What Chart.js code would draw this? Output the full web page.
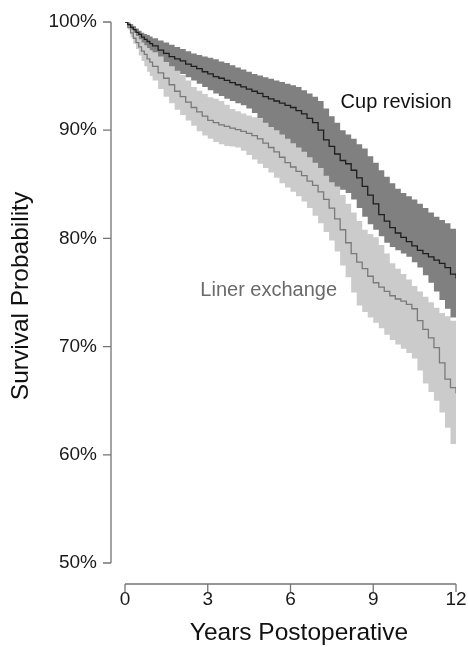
<!DOCTYPE html>
<html>
<head>
<meta charset="utf-8">
<script src="https://cdn.jsdelivr.net/npm/chart.js@4.4.1/dist/chart.umd.min.js"></script>
<style>
  html, body { margin: 0; padding: 0; background: #ffffff; }
  #wrap { width: 468px; height: 647px; position: relative; }
</style>
</head>
<body>
<div id="wrap"><canvas id="km"></canvas></div>
<script>
// Follow-up times (years) shared by every curve
const years = [
  0, 0.1, 0.2, 0.3, 0.4, 0.5, 0.6, 0.7, 0.8, 0.9, 1.0,
  1.2, 1.4, 1.6, 1.8, 2.0, 2.2, 2.4, 2.6, 2.8, 3.0,
  3.2, 3.4, 3.6, 3.8, 4.0, 4.2, 4.4, 4.6, 4.8, 5.0,
  5.2, 5.4, 5.6, 5.8, 6.0, 6.2, 6.4, 6.6, 6.8, 7.0,
  7.2, 7.4, 7.6, 7.8, 8.0, 8.2, 8.4, 8.6, 8.8, 9.0,
  9.2, 9.4, 9.6, 9.8, 10.0, 10.2, 10.4, 10.6, 10.8, 11.0,
  11.2, 11.4, 11.6, 11.8, 12.0
];

// Cup revision: Kaplan-Meier estimate and 95% band (%)
const cupSurv = [
  100, 99.75, 99.5, 99.3, 99.05, 98.85, 98.6, 98.4, 98.2, 98.0, 97.8,
  97.4, 97.1, 96.8, 96.6, 96.4, 96.1, 95.9, 95.7, 95.4, 95.2,
  94.95, 94.8, 94.6, 94.4, 94.2, 94.0, 93.8, 93.6, 93.4, 93.1,
  92.9, 92.7, 92.5, 92.3, 92.1, 91.8, 91.5, 91.1, 90.7, 90.0,
  89.1, 88.5, 87.8, 87.2, 86.9, 86.3, 85.6, 84.8, 84.0, 83.2,
  82.2, 81.6, 81.0, 80.5, 80.1, 79.7, 79.3, 78.9, 78.6, 78.3,
  78.0, 77.7, 77.3, 76.7, 76.3
];
const cupUpper = [
  100, 99.95, 99.8, 99.6, 99.4, 99.2, 99.0, 98.9, 98.8, 98.65, 98.5,
  98.3, 98.1, 97.9, 97.7, 97.5, 97.3, 97.1, 96.95, 96.8, 96.7,
  96.55, 96.35, 96.2, 96.0, 95.8, 95.6, 95.4, 95.2, 95.05, 94.9,
  94.75, 94.6, 94.45, 94.3, 94.15, 94.0, 93.7, 93.4, 93.1, 92.7,
  92.0, 91.3, 90.7, 90.0, 89.6, 89.2, 88.7, 88.3, 87.6, 87.0,
  86.3, 85.7, 85.1, 84.6, 84.2, 83.9, 83.6, 83.2, 82.8, 82.4,
  82.0, 81.7, 81.4, 80.9, 80.8
];
const cupLower = [
  100, 99.6, 99.3, 99.0, 98.7, 98.4, 98.1, 97.85, 97.6, 97.4, 97.2,
  96.8, 96.3, 95.9, 95.5, 95.2, 94.9, 94.6, 94.3, 94.0, 93.7,
  93.4, 93.15, 92.9, 92.7, 92.5, 92.3, 92.0, 91.6, 91.1, 90.7,
  90.3, 90.0, 89.6, 89.2, 88.8, 88.4, 88.0, 87.5, 87.0, 86.5,
  85.8, 85.2, 84.8, 84.5, 84.2, 83.6, 82.8, 82.0, 81.3, 80.8,
  80.2, 79.6, 79.2, 78.9, 78.6, 78.3, 77.8, 77.3, 76.6, 75.9,
  75.1, 74.3, 73.5, 72.7, 72.5
];

// Liner exchange: Kaplan-Meier estimate and 95% band (%)
const linerSurv = [
  100, 99.5, 99.0, 98.5, 98.1, 97.7, 97.3, 97.0, 96.6, 96.3, 95.9,
  95.3, 94.8, 94.2, 93.6, 93.1, 92.6, 92.1, 91.7, 91.3, 90.9,
  90.7, 90.5, 90.35, 90.2, 90.05, 89.9, 89.7, 89.5, 89.2, 88.8,
  88.4, 88.0, 87.5, 87.0, 86.6, 86.2, 85.8, 85.3, 84.9, 84.3,
  83.6, 82.8, 81.8, 80.8, 79.6, 78.6, 77.8, 77.2, 76.5, 75.9,
  75.5, 75.1, 74.7, 74.4, 74.2, 73.9, 73.5, 72.4, 71.6, 70.8,
  69.9, 68.5, 67.0, 66.2, 65.7
];
const linerUpper = [
  100, 99.9, 99.8, 99.55, 99.3, 99.05, 98.8, 98.55, 98.3, 98.05, 97.8,
  97.3, 96.8, 96.2, 95.6, 95.1, 94.6, 94.0, 93.65, 93.35, 93.05,
  92.9, 92.7, 92.35, 91.95, 91.75, 91.55, 91.35, 91.2, 91.05, 90.95,
  90.65, 90.35, 90.05, 89.75, 89.45, 89.15, 88.85, 88.45, 88.05, 87.55,
  86.85, 86.2, 85.6, 84.0, 83.2, 82.4, 81.6, 80.8, 80.4, 80.1,
  79.4, 78.6, 77.7, 77.2, 76.7, 76.2, 75.6, 75.1, 74.6, 74.1,
  73.6, 73.1, 72.8, 72.4, 72.2
];
const linerLower = [
  100, 99.3, 98.6, 98.0, 97.5, 96.9, 96.4, 95.9, 95.4, 95.0, 94.6,
  93.8, 93.1, 92.5, 91.9, 91.4, 90.9, 90.4, 89.9, 89.5, 89.2,
  88.9, 88.7, 88.55, 88.5, 88.4, 88.1, 87.7, 87.3, 86.9, 86.5,
  86.1, 85.6, 85.1, 84.7, 84.3, 83.9, 83.4, 82.8, 82.1, 81.4,
  80.6, 79.8, 78.8, 77.5, 76.4, 75.0, 73.8, 73.2, 72.7, 72.2,
  71.7, 71.1, 70.6, 70.2, 69.8, 69.4, 68.9, 67.8, 66.6, 65.8,
  65.0, 63.9, 62.5, 61.0, 60.4
];

// Axis tick positions
const xTicks = [0, 3, 6, 9, 12];
const yTicks = [50, 60, 70, 80, 90, 100];

// Curve labels: text, anchor (years, %) and colour
const curveLabels = [
  { text: 'Cup revision',   x: 9.83, y: 92.05, color: '#111111' },
  { text: 'Liner exchange', x: 5.21, y: 74.7,  color: '#6a6a6a' }
];

const FONT = "'Liberation Sans', Arial, Helvetica, sans-serif";

const pts = vals => years.map((t, i) => ({ x: t, y: vals[i] }));

function band(vals, fill, color) {
  return {
    data: pts(vals), stepped: true, fill: fill,
    backgroundColor: color, borderColor: 'rgba(0,0,0,0)', borderWidth: 0,
    pointRadius: 0
  };
}
function curve(vals, color, width) {
  return {
    data: pts(vals), stepped: true, fill: false,
    borderColor: color, borderWidth: width, pointRadius: 0
  };
}

// R-style detached axes, curve labels and axis titles
const decorPlugin = {
  id: 'decor',
  afterDraw(chart) {
    const { ctx, chartArea: a, scales: { x, y } } = chart;
    ctx.save();
    ctx.strokeStyle = '#747474';
    ctx.lineWidth = 1.3;

    // y axis
    const ax = a.left - 14;
    ctx.beginPath();
    ctx.moveTo(ax, y.getPixelForValue(yTicks[0]));
    ctx.lineTo(ax, y.getPixelForValue(yTicks[yTicks.length - 1]));
    yTicks.forEach(v => {
      const py = y.getPixelForValue(v);
      ctx.moveTo(ax, py); ctx.lineTo(ax - 8, py);
    });
    ctx.stroke();

    // x axis
    const ay = a.bottom + 21;
    ctx.beginPath();
    ctx.moveTo(x.getPixelForValue(xTicks[0]), ay);
    ctx.lineTo(x.getPixelForValue(xTicks[xTicks.length - 1]), ay);
    xTicks.forEach(v => {
      const px = x.getPixelForValue(v);
      ctx.moveTo(px, ay); ctx.lineTo(px, ay + 8);
    });
    ctx.stroke();

    // curve labels
    ctx.font = '20px ' + FONT;
    ctx.textAlign = 'center';
    ctx.textBaseline = 'alphabetic';
    curveLabels.forEach(l => {
      ctx.fillStyle = l.color;
      ctx.fillText(l.text, x.getPixelForValue(l.x), y.getPixelForValue(l.y));
    });

    // axis titles
    ctx.fillStyle = '#111111';
    ctx.font = '24.5px ' + FONT;
    ctx.fillText('Years Postoperative', 299, 640);
    ctx.translate(28, 296);
    ctx.rotate(-Math.PI / 2);
    ctx.fillText('Survival Probability', 0, 0);
    ctx.restore();
  }
};

new Chart(document.getElementById('km'), {
  type: 'line',
  data: {
    datasets: [
      curve(cupSurv, '#1e1e1e', 1.3),
      curve(linerSurv, '#7a7a7a', 1.3),
      band(cupUpper, '+1', '#808080'),
      band(cupLower, false, '#808080'),
      band(linerUpper, '+1', '#cbcbcb'),
      band(linerLower, false, '#cbcbcb')
    ]
  },
  options: {
    responsive: true,
    maintainAspectRatio: false,
    animation: false,
    layout: { padding: { top: 22, right: 12, left: 0, bottom: 0 } },
    plugins: { legend: { display: false }, tooltip: { enabled: false } },
    scales: {
      x: {
        type: 'linear', min: 0, max: 12,
        afterBuildTicks: s => { s.ticks = xTicks.map(v => ({ value: v })); },
        afterFit: s => { s.height = 84; s.paddingLeft = 0; s.paddingRight = 0; },
        grid: { display: false, drawTicks: false },
        border: { display: false },
        ticks: { color: '#1a1a1a', padding: 25, maxRotation: 0, font: { family: FONT, size: 19 } }
      },
      y: {
        type: 'linear', min: 50, max: 100,
        afterBuildTicks: s => { s.ticks = yTicks.map(v => ({ value: v })); },
        afterFit: s => { s.width = 125; s.paddingTop = 0; s.paddingBottom = 0; },
        grid: { display: false, drawTicks: false },
        border: { display: false },
        ticks: { color: '#1a1a1a', padding: 28, font: { family: FONT, size: 19 },
                 callback: v => v + '%' }
      }
    }
  },
  plugins: [decorPlugin]
});
</script>
</body>
</html>
